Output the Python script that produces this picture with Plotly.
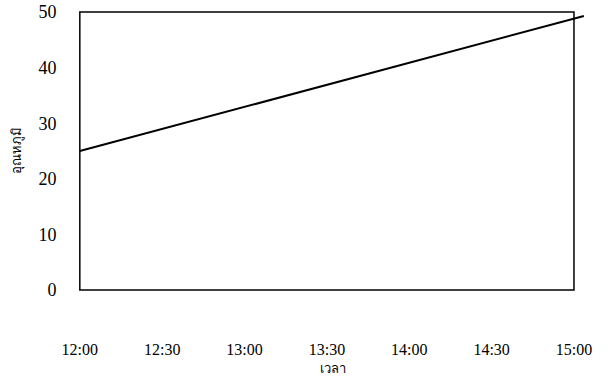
import plotly.graph_objects as go

# Data
time_hours = [12.0, 15.06]          # 12:00 -> just past 15:00
temperature = [25.0, 49.3]
tick_hours = [12.0, 12.5, 13.0, 13.5, 14.0, 14.5, 15.0]
tick_labels = ["12:00", "12:30", "13:00", "13:30", "14:00", "14:30", "15:00"]
y_ticks = [0, 10, 20, 30, 40, 50]
x_title = "เวลา"
y_title = "อุณหภูมิ"

serif = "Liberation Serif, Times New Roman, serif"

fig = go.Figure()
fig.add_trace(go.Scatter(
    x=time_hours, y=temperature, mode="lines",
    line=dict(color="black", width=2), showlegend=False, hoverinfo="skip",
))

# frame box (12:00-15:00, 0-50)
fig.add_shape(type="rect", x0=tick_hours[0], x1=tick_hours[-1], y0=y_ticks[0], y1=y_ticks[-1],
              xref="x", yref="y", line=dict(color="black", width=1.5), layer="above")

fig.update_layout(
    width=614, height=378,
    margin=dict(l=79, r=28, t=11, b=87, autoexpand=False),
    paper_bgcolor="white", plot_bgcolor="white",
    font=dict(family=serif, color="black", size=16),
)
fig.update_xaxes(
    range=[11.995, 15.073], tickvals=tick_hours, ticktext=tick_labels,
    showgrid=False, zeroline=False, showline=False,
    ticks="outside", ticklen=44, tickcolor="rgba(0,0,0,0)",
    tickfont=dict(family=serif, size=16, color="black"),
    ticklabeloverflow="allow",
    title=dict(text=x_title, font=dict(size=13, color="black", family="Noto Sans, sans-serif"), standoff=6),
    automargin=False,
)
fig.update_yaxes(
    range=[-0.2, 50.2], tickvals=y_ticks,
    showgrid=False, zeroline=False, showline=False,
    ticks="outside", ticklen=18, tickcolor="rgba(0,0,0,0)",
    tickfont=dict(family=serif, size=18, color="black"),
    ticklabeloverflow="allow",
    title=dict(text=y_title, font=dict(size=13, color="black", family="Noto Sans, sans-serif"), standoff=13),
    automargin=False,
)

fig.write_html("out.html", config={"displayModeBar": False},
               post_script="document.body.style.margin='0';")
